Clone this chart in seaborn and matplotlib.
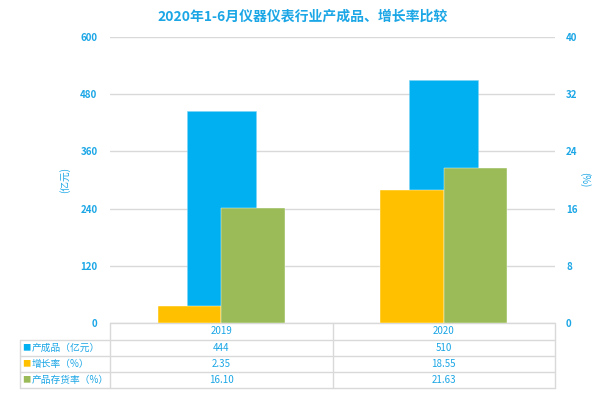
import seaborn as sns
import matplotlib.pyplot as plt
import pandas as pd

# ---------------------------------------------------------------
# Data: 2020 H1 instrument industry finished goods & growth rates
# ---------------------------------------------------------------
years = ["2019", "2020"]
output_vals = [444, 510]            # 产成品 (亿元), left axis
growth_vals = [2.35, 18.55]         # 增长率 (%), right axis
stock_vals = [16.10, 21.63]         # 产品存货率 (%), right axis
series_names = ["产成品（亿元）", "增长率（%）", "产品存货率（%）"]
left_ticks = [0, 120, 240, 360, 480, 600]
right_ticks = [0, 8, 16, 24, 32, 40]

colors = ["#00B0F0", "#FFC000", "#9BBB59"]
text_blue = "#1BA6E6"
grid_gray = "#D9D9D9"

df_left = pd.DataFrame({"year": years, "value": output_vals})
df_right = pd.DataFrame({
    "year": years * 2,
    "series": [series_names[1]] * 2 + [series_names[2]] * 2,
    "value": growth_vals + stock_vals,
})

sns.set_style("white")
plt.rcParams["font.family"] = ["Noto Sans CJK SC", "DejaVu Sans"]

fig = plt.figure(figsize=(6.03, 3.95), dpi=100)
ax = fig.add_axes([110 / 603, 1 - 323 / 395, 445 / 603, 286 / 395])

# primary axis bars (behind)
sns.barplot(data=df_left, x="year", y="value", color=colors[0],
            width=0.31, saturation=1, ax=ax, zorder=2,
            edgecolor="#7FD4F5", linewidth=0.4)
ax.set_ylim(0, 600)
ax.set_xlim(-0.5, 1.5)
ax.set_yticks(left_ticks)
ax.yaxis.grid(True, color=grid_gray, linewidth=1)
ax.set_axisbelow(True)

# secondary axis bars (front)
ax2 = ax.twinx()
sns.barplot(data=df_right, x="year", y="value", hue="series",
            palette=colors[1:], width=0.57, gap=0, saturation=1,
            ax=ax2, legend=False, edgecolor="white", linewidth=0.3)
ax2.set_ylim(0, 40)
ax2.set_yticks(right_ticks)

for a in (ax, ax2):
    for s in a.spines.values():
        s.set_visible(False)
    a.set_xlabel("")
    a.set_ylabel("")
    a.tick_params(axis="y", length=0, labelsize=7, labelcolor=text_blue)
    for t in a.get_yticklabels():
        t.set_fontweight("bold")
ax.tick_params(axis="y", pad=9)
ax2.tick_params(axis="y", pad=8)
ax.set_xticks([])
ax2.set_xticks([])

fig.text(65 / 603, 1 - 180 / 395, "(亿元)", rotation=90, color=text_blue,
         fontsize=7, ha="center", va="center")
fig.text(585 / 603, 1 - 180 / 395, "(%)", rotation=270, color=text_blue,
         fontsize=7, ha="center", va="center")

fig.text(303 / 603, 1 - 17 / 395, "2020年1-6月仪器仪表行业产成品、增长率比较",
         color=text_blue, fontsize=10, fontweight="bold",
         ha="center", va="center")

# ---------------------------------------------------------------
# Data table below the axes
# ---------------------------------------------------------------
row_px = [323, 340, 356, 372, 388]
row_y = [(323 - p) / 286 for p in row_px]
x_left = (20 - 110) / 445
tr = ax.transAxes
lk = dict(color=grid_gray, linewidth=1, transform=tr, clip_on=False)

# horizontal lines
ax.plot([0, 1], [row_y[0], row_y[0]], **lk)
for y in row_y[1:]:
    ax.plot([x_left, 1], [y, y], **lk)
# vertical lines
for x in (0, 0.5, 1):
    ax.plot([x, x], [row_y[0], row_y[-1]], **lk)
ax.plot([x_left, x_left], [row_y[1], row_y[-1]], **lk)

col_x = [0.25, 0.75]
hy = (row_y[0] + row_y[1]) / 2
for cx, yr in zip(col_x, years):
    ax.text(cx, hy, yr, transform=tr, ha="center", va="center",
            fontsize=7, color=text_blue)

table_rows = [
    [f"{v:d}" for v in output_vals],
    [f"{v:.2f}" for v in growth_vals],
    [f"{v:.2f}" for v in stock_vals],
]
for i, (name, vals) in enumerate(zip(series_names, table_rows)):
    yc = (row_y[i + 1] + row_y[i + 2]) / 2
    ax.text(x_left + 0.006, yc, "■", transform=tr, ha="left", va="center",
            fontsize=6, color=colors[i])
    ax.text(x_left + 0.026, yc, name, transform=tr, ha="left", va="center",
            fontsize=7, color=text_blue)
    for cx, v in zip(col_x, vals):
        ax.text(cx, yc, v, transform=tr, ha="center", va="center",
                fontsize=7, color=text_blue)

fig.savefig("out.png", dpi=100)
plt.close(fig)
